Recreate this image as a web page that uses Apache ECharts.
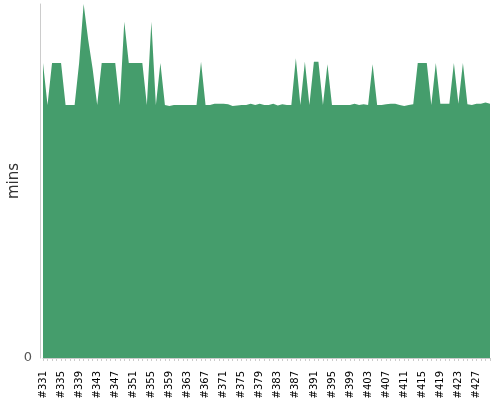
<!DOCTYPE html>
<html>
<head>
<meta charset="utf-8">
<script src="https://cdn.jsdelivr.net/npm/echarts@6/dist/echarts.min.js"></script>
<style>html,body{margin:0;padding:0;background:#fff}#c{width:500px;height:400px}</style>
</head>
<body>
<div id="c"></div>
<script>
var categories = [];
for (var n = 331; n <= 430; n++) categories.push('#' + n);
var minutes = [
  50.0, 42.9, 50.0, 50.0, 50.0, 42.9, 42.9, 42.9, 50.0, 60.0,
  54.0, 49.0, 42.9, 50.0, 50.0, 50.0, 50.0, 42.9, 57.0, 50.0,
  50.0, 50.0, 50.0, 42.9, 57.0, 42.9, 50.0, 42.9, 42.7, 42.9,
  42.9, 42.9, 42.9, 42.9, 42.9, 50.2, 42.9, 42.9, 43.1, 43.1,
  43.1, 43.0, 42.7, 42.8, 42.9, 42.9, 43.1, 42.9, 43.1, 42.9,
  42.9, 43.1, 42.8, 43.0, 42.9, 42.9, 50.8, 42.9, 50.2, 42.9,
  50.2, 50.2, 42.9, 49.8, 42.9, 42.9, 42.9, 42.9, 42.9, 43.1,
  42.9, 43.0, 42.9, 49.8, 42.9, 42.9, 43.0, 43.1, 43.1, 42.9,
  42.7, 42.9, 43.0, 50.0, 50.0, 50.0, 42.9, 50.0, 43.1, 43.1,
  43.1, 50.0, 43.1, 50.0, 43.0, 42.9, 43.1, 43.1, 43.3, 43.1
];
var yName = 'mins';
var chart = echarts.init(document.getElementById('c'), null, {renderer: 'canvas'});
chart.setOption({
  animation: false,
  grid: {left: 43, right: 10, top: 4, bottom: 42, outerBoundsMode: 'none', containLabel: false},
  xAxis: {
    type: 'category',
    data: categories,
    boundaryGap: false,
    offset: 1,
    axisLine: {lineStyle: {color: '#cccccc'}},
    axisTick: {show: true, interval: 0, length: 3, lineStyle: {color: '#cccccc'}},
    axisLabel: {interval: 3, rotate: 90, color: '#000', fontSize: 10, margin: 12, fontFamily: 'DejaVu Sans'}
  },
  yAxis: {
    type: 'value',
    min: 0,
    max: 60,
    interval: 60,
    offset: 3,
    name: yName,
    nameLocation: 'middle',
    nameGap: 18,
    nameMoveOverlap: false,
    nameTextStyle: {fontSize: 15, color: '#333', fontFamily: 'DejaVu Sans'},
    axisLine: {show: true, lineStyle: {color: '#cccccc'}},
    axisTick: {show: false},
    splitLine: {show: false},
    axisLabel: {color: '#555', fontSize: 13, margin: 8, fontFamily: 'DejaVu Sans', formatter: function (v) { return v === 0 ? '0' : ''; }}
  },
  series: [{
    type: 'line',
    data: minutes,
    showSymbol: false,
    symbol: 'none',
    lineStyle: {width: 0, color: '#459d6c'},
    itemStyle: {color: '#459d6c'},
    areaStyle: {color: '#459d6c', opacity: 1}
  }]
});
</script>
</body>
</html>
